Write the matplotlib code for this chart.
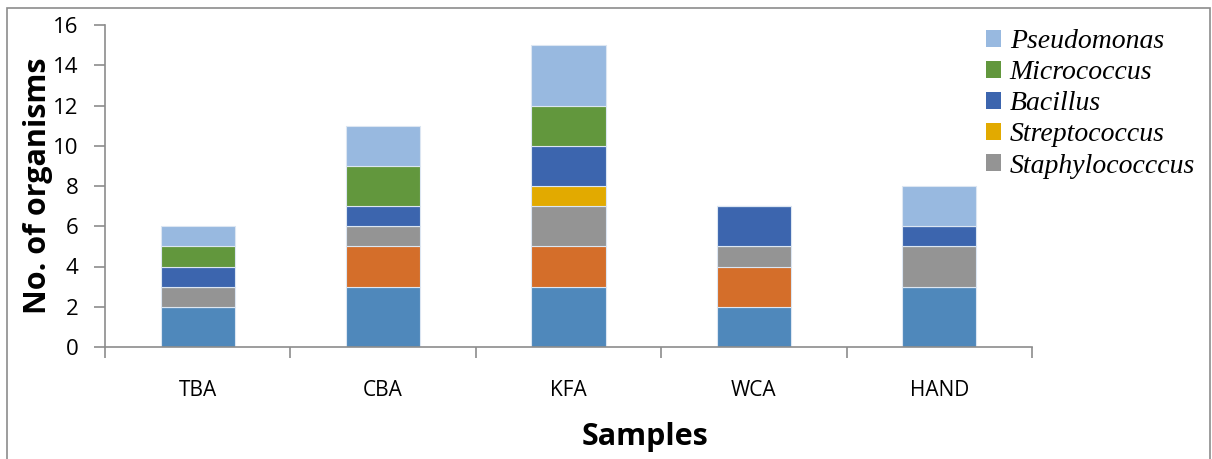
import numpy as np
import matplotlib
matplotlib.use("Agg")
import matplotlib.pyplot as plt
from matplotlib.patches import Rectangle

samples = ["TBA", "CBA", "KFA", "WCA", "HAND"]

# stacked from bottom to top
series_names = ["Series 1", "Series 2", "Staphylococccus", "Streptococcus",
                "Bacillus", "Micrococcus", "Pseudomonas"]
series1 = [2, 3, 3, 2, 3]
series2 = [0, 2, 2, 2, 0]
staphylococcus = [1, 1, 2, 1, 2]
streptococcus = [0, 0, 1, 0, 0]
bacillus = [1, 1, 2, 2, 1]
micrococcus = [1, 2, 2, 0, 0]
pseudomonas = [1, 2, 3, 0, 2]

series_vals = [series1, series2, staphylococcus, streptococcus,
               bacillus, micrococcus, pseudomonas]
colors = ["#4F88BB", "#D46E2A", "#949494", "#E2AA00",
          "#3C65AE", "#62973D", "#98B9E0"]
in_legend = [False, False, True, True, True, True, True]

sans = ["Open Sans", "DejaVu Sans"]

fig = plt.figure(figsize=(12.12, 4.59), dpi=100)
ax = fig.add_axes([105 / 1212, 1 - 347 / 459, (1032 - 105) / 1212, (347 - 25) / 459])

# outer frame
fig.patches.append(Rectangle((7 / 1212, -0.1), (1210 - 7) / 1212, 1.1 - 8 / 459,
                             transform=fig.transFigure, fill=False,
                             edgecolor="#8C8C8C", linewidth=1.2))

x = np.arange(len(samples))
bottom = np.zeros(len(samples))
handles = {}
for name, vals, c in zip(series_names, series_vals, colors):
    vals = np.array(vals, dtype=float)
    b = ax.bar(x, vals, width=0.4, bottom=bottom, color=c,
               edgecolor="#DCE6F2", linewidth=0.8, label=name)
    handles[name] = b
    bottom += vals

ax.set_xlim(-0.5, len(samples) - 0.5)
ax.set_ylim(0, 16)
ax.set_yticks(range(0, 17, 2))
ax.set_xticks(x)
ax.set_xticklabels(samples)
ax.set_xticks(np.arange(-0.5, len(samples)), minor=True)

for s in ["top", "right"]:
    ax.spines[s].set_visible(False)
for s in ["left", "bottom"]:
    ax.spines[s].set_color("#8C8C8C")
    ax.spines[s].set_linewidth(1.2)

ax.tick_params(axis="y", length=8, width=1.2, color="#8C8C8C",
               labelsize=16, pad=11)
ax.tick_params(axis="x", which="major", length=0, labelsize=15, pad=24)
ax.tick_params(axis="x", which="minor", length=8, width=1.2, color="#8C8C8C")
for lbl in ax.get_xticklabels() + ax.get_yticklabels():
    lbl.set_fontfamily(sans)

ax.set_ylabel("No. of organisms", fontsize=22, fontweight="bold",
              family=sans, labelpad=0)
fig.text(645 / 1212, 1 - 437 / 459, "Samples", ha="center", va="center",
         fontsize=22, fontweight="bold", family=sans)

leg_names = [n for n, f in zip(series_names, in_legend) if f][::-1]
leg = ax.legend([handles[n] for n in leg_names], leg_names,
                loc="upper left", bbox_to_anchor=(975 / 1212, 1 - 18 / 459),
                bbox_transform=fig.transFigure, frameon=False,
                prop={"family": "Liberation Serif", "style": "italic", "size": 20},
                handlelength=0.55, handleheight=0.55, handletextpad=0.3,
                labelspacing=0.22, borderaxespad=0)
for h in leg.legend_handles:
    h.set_edgecolor("none")

fig.savefig("out.png", dpi=100)
